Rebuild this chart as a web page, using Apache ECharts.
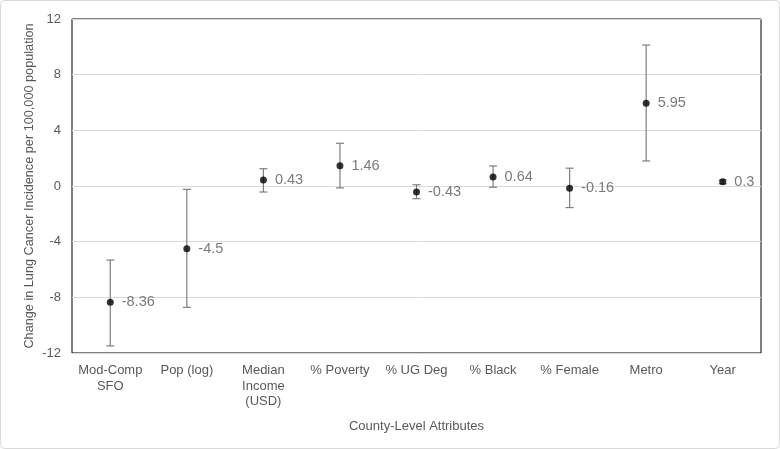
<!DOCTYPE html>
<html><head><meta charset="utf-8">
<script src="https://cdn.jsdelivr.net/npm/echarts@6/dist/echarts.min.js"></script>
<style>html,body{margin:0;padding:0;background:#fff}#c{width:780px;height:449px}</style>
</head><body><div id="c"></div>
<script>
const categories = ['Mod-Comp\nSFO', 'Pop (log)', 'Median\nIncome\n(USD)', '% Poverty', '% UG Deg', '% Black', '% Female', 'Metro', 'Year'];
const estimates = [-8.36, -4.5, 0.43, 1.46, -0.43, 0.64, -0.16, 5.95, 0.3];
const lowerCI = [-11.49, -8.72, -0.43, -0.14, -0.91, -0.09, -1.55, 1.80, 0.16];
const upperCI = [-5.32, -0.24, 1.24, 3.07, 0.09, 1.44, 1.28, 10.13, 0.43];
const yTicks = { min: -12, max: 12, interval: 4 };

const chart = echarts.init(document.getElementById('c'));
const regular = '"Liberation Sans", Arial, sans-serif';
chart.setOption({
  animation: false,
  backgroundColor: '#fff',
  graphic: [{ type: 'rect', shape: { x: 0.5, y: 0.5, width: 779, height: 448, r: 4 }, style: { fill: 'none', stroke: '#d9d9d9', lineWidth: 1 }, silent: true }],
  grid: { left: 72, right: 19, top: 19, bottom: 96, show: true, borderColor: '#000', borderWidth: 1 },
  xAxis: {
    type: 'category', data: categories, boundaryGap: true,
    name: 'County-Level Attributes', nameLocation: 'middle', nameGap: 67, nameMoveOverlap: false,
    nameTextStyle: { color: '#595959', fontFamily: regular, fontSize: 13 },
    axisLine: { show: false }, axisTick: { show: false }, splitLine: { show: false },
    axisLabel: { color: '#595959', fontFamily: regular, fontSize: 13, lineHeight: 15.5, margin: 10, interval: 0 }
  },
  yAxis: {
    type: 'value', min: yTicks.min, max: yTicks.max, interval: yTicks.interval,
    name: 'Change in Lung Cancer Incidence per 100,000 population', nameLocation: 'middle', nameGap: 36, nameMoveOverlap: false,
    nameTextStyle: { color: '#595959', fontFamily: regular, fontSize: 12.7 },
    axisLine: { show: false }, axisTick: { show: false },
    splitLine: { lineStyle: { color: '#d9d9d9', width: 1 } },
    axisLabel: { color: '#595959', fontFamily: regular, fontSize: 13, margin: 11 }
  },
  series: [
    {
      type: 'custom',
      data: categories.map((c, i) => [i, lowerCI[i], upperCI[i]]),
      renderItem: function (params, api) {
        const lo = api.coord([api.value(0), api.value(1)]);
        const hi = api.coord([api.value(0), api.value(2)]);
        const w = 4;
        const st = { stroke: '#7f7f7f', lineWidth: 1.2 };
        return { type: 'group', children: [
          { type: 'line', shape: { x1: lo[0], y1: lo[1], x2: hi[0], y2: hi[1] }, style: st },
          { type: 'line', shape: { x1: lo[0] - w, y1: lo[1], x2: lo[0] + w, y2: lo[1] }, style: st },
          { type: 'line', shape: { x1: hi[0] - w, y1: hi[1], x2: hi[0] + w, y2: hi[1] }, style: st }
        ] };
      },
      z: 2
    },
    {
      type: 'scatter', data: estimates, symbol: 'circle', symbolSize: 7,
      itemStyle: { color: '#000' },
      label: { show: true, position: 'right', distance: 8, color: '#595959', fontFamily: regular, fontSize: 14.5,
        formatter: p => String(p.value) },
      z: 3
    }
  ]
});
</script></body></html>
